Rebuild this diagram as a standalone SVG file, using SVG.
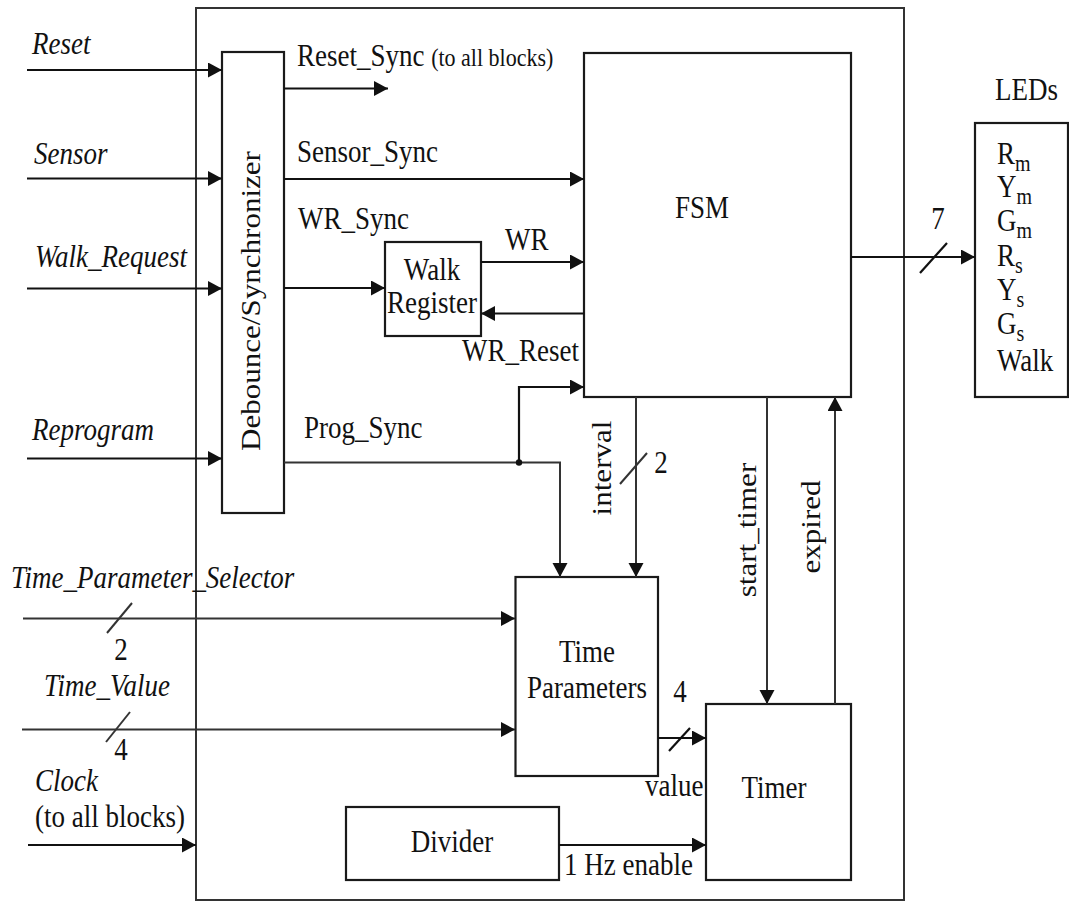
<svg xmlns="http://www.w3.org/2000/svg" width="1069" height="904" viewBox="0 0 1069 904">
<style>
.t{font-family:"Liberation Serif","Times New Roman",serif;font-size:27px;fill:#111}
.i{font-style:italic}
.m{text-anchor:middle}
.sm{font-size:22px}
.sub{font-size:20px}
.box{fill:#fff;stroke:#1a1a1a;stroke-width:2.2}
.w{fill:none;stroke:#111;stroke-width:2.2}
.g{fill:none;stroke:#333;stroke-width:2}
.a{marker-end:url(#ah)}
</style>
<defs>
<marker id="ah" markerUnits="userSpaceOnUse" markerWidth="15" markerHeight="16" refX="14" refY="7.5" orient="auto">
<path d="M0,0 L14,7.5 L0,15 z" fill="#111"/>
</marker>
</defs>
<rect width="1069" height="904" fill="#fff"/>

<g id="system">
<rect x="196" y="8" width="708" height="892" fill="none" stroke="#333" stroke-width="2"/>
</g>

<g id="debounce">
<rect class="box" x="222" y="52" width="62" height="461"/>
<text class="t m" transform="matrix(0,-1.15,1,0,260,301)">Debounce/Synchronizer</text>
</g>

<g id="walk-register">
<rect class="box" x="385" y="242" width="96" height="94"/>
<text class="t m" transform="matrix(1,0,0,1.15,432,280)">Walk</text>
<text class="t m" transform="matrix(1,0,0,1.15,432,313)">Register</text>
</g>

<g id="fsm">
<rect class="box" x="584" y="53" width="267" height="344"/>
<text class="t m" transform="matrix(1,0,0,1.15,702,218)">FSM</text>
</g>

<g id="leds">
<text class="t" transform="matrix(1,0,0,1.15,995,100)">LEDs</text>
<rect class="box" x="975" y="123" width="93" height="274"/>
<text class="t" transform="matrix(1,0,0,1.15,997,164)">R<tspan class="sub" dy="6">m</tspan></text>
<text class="t" transform="matrix(1,0,0,1.15,997,197)">Y<tspan class="sub" dy="6">m</tspan></text>
<text class="t" transform="matrix(1,0,0,1.15,997,231)">G<tspan class="sub" dy="6">m</tspan></text>
<text class="t" transform="matrix(1,0,0,1.15,997,266)">R<tspan class="sub" dy="6">s</tspan></text>
<text class="t" transform="matrix(1,0,0,1.15,997,300)">Y<tspan class="sub" dy="6">s</tspan></text>
<text class="t" transform="matrix(1,0,0,1.15,997,334)">G<tspan class="sub" dy="6">s</tspan></text>
<text class="t" transform="matrix(1,0,0,1.15,997,371)">Walk</text>
</g>

<g id="time-parameters">
<rect class="box" x="515.5" y="577" width="142.5" height="199"/>
<text class="t m" transform="matrix(1,0,0,1.15,587,662)">Time</text>
<text class="t m" transform="matrix(1,0,0,1.15,587,698)">Parameters</text>
</g>

<g id="timer">
<rect class="box" x="706" y="704" width="145" height="176"/>
<text class="t m" transform="matrix(1,0,0,1.15,774,798)">Timer</text>
</g>

<g id="divider">
<rect class="box" x="346" y="807" width="213" height="73"/>
<text class="t m" transform="matrix(1,0,0,1.15,452,852)">Divider</text>
</g>

<g id="connectors">
<!-- external inputs -->
<path class="w a" d="M27,70 H222"/>
<path class="w a" d="M27,178.5 H222"/>
<path class="w a" d="M27,288.5 H222"/>
<path class="w a" d="M27,458.5 H222"/>
<path class="g a" d="M23,618.5 H515"/>
<path class="g" d="M107,633 L132,603"/>
<path class="g a" d="M22,729.5 H515"/>
<path class="g" d="M106,742 L130,712"/>
<path class="w a" d="M28,845 H196"/>
<!-- internal -->
<path class="w a" d="M284,88.5 H388"/>
<path class="w a" d="M284,179 H584"/>
<path class="w a" d="M284,288 H385"/>
<path class="w a" d="M481,262 H584"/>
<path class="w a" d="M584,313.5 H481"/>
<path class="g a" d="M284,462.5 H560 V577"/>
<path class="w a" d="M519,462.5 V387 H584"/>
<circle cx="519" cy="462.5" r="3.2" fill="#111"/>
<path class="g a" d="M636,397 V577"/>
<path class="g" d="M620,484 L647,453"/>
<path class="g a" d="M767,397 V704"/>
<path class="g a" d="M835,704 V397"/>
<path class="w a" d="M658,738 H706"/>
<path class="w" d="M669,751 L690,728"/>
<path class="w a" d="M559,845 H706"/>
<path class="w a" d="M851,257 H975"/>
<path class="w" d="M920,273 L947,243"/>
</g>

<g id="labels">
<text class="t i" transform="matrix(1,0,0,1.15,32,54)">Reset</text>
<text class="t i" transform="matrix(1,0,0,1.15,34,164)">Sensor</text>
<text class="t i" transform="matrix(1,0,0,1.15,35,267)">Walk_Request</text>
<text class="t i" transform="matrix(1,0,0,1.15,32,440)">Reprogram</text>
<text class="t i" transform="matrix(1,0,0,1.15,11,588)">Time_Parameter_Selector</text>
<text class="t m" transform="matrix(1,0,0,1.15,121,660)">2</text>
<text class="t i" transform="matrix(1,0,0,1.15,44,696)">Time_Value</text>
<text class="t m" transform="matrix(1,0,0,1.15,121,760)">4</text>
<text class="t i" transform="matrix(1,0,0,1.15,35,791)">Clock</text>
<text class="t" transform="matrix(1,0,0,1.15,35,827)">(to all blocks)</text>
<text class="t" transform="matrix(1,0,0,1.15,297,66)">Reset_Sync <tspan class="sm">(to all blocks)</tspan></text>
<text class="t" transform="matrix(1,0,0,1.15,297,162)">Sensor_Sync</text>
<text class="t" transform="matrix(1,0,0,1.15,298,229)">WR_Sync</text>
<text class="t" transform="matrix(1,0,0,1.15,505,250)">WR</text>
<text class="t" transform="matrix(1,0,0,1.15,462,361)">WR_Reset</text>
<text class="t" transform="matrix(1,0,0,1.15,304,438)">Prog_Sync</text>
<text class="t m" transform="matrix(0,-1.15,1,0,611,468)">interval</text>
<text class="t m" transform="matrix(1,0,0,1.15,661,473)">2</text>
<text class="t m" transform="matrix(0,-1.15,1,0,756,530)">start_timer</text>
<text class="t m" transform="matrix(0,-1.15,1,0,820,527)">expired</text>
<text class="t m" transform="matrix(1,0,0,1.15,680,702)">4</text>
<text class="t" transform="matrix(1,0,0,1.15,645,796)">value</text>
<text class="t" transform="matrix(1,0,0,1.15,564,875)">1 Hz enable</text>
<text class="t m" transform="matrix(1,0,0,1.15,938,229)">7</text>
</g>
</svg>
